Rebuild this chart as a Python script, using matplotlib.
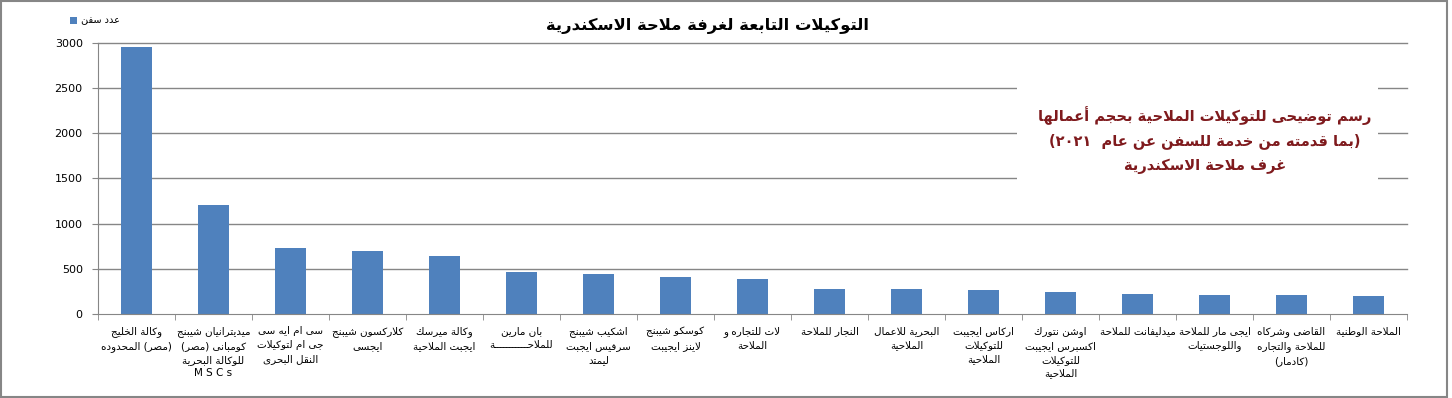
import re
import numpy as np
import matplotlib
matplotlib.use('Agg')
import matplotlib.pyplot as plt
from matplotlib.patches import Rectangle

# agencies, one line per row of the axis label as in the original sheet
agencies=[
    'وكالة الخليج\n(مصر) المحدوده',
    'ميديترانيان شيبنج\nكومبانى (مصر)\nللوكالة البحرية\nM S C s',
    'سى ام ايه سى\nجى ام لتوكيلات\nالنقل البحرى',
    'كلاركسون شيبنج\nايجسى',
    'وكالة ميرسك\nايجبت الملاحية',
    'بان مارين\nللملاحـــــــــــة',
    'اشكيب شيبنج\nسرفيس ايجبت\nليمتد',
    'كوسكو شيبنج\nلاينز ايجيبت',
    'لات للتجاره و\nالملاحة',
    'النجار للملاحة',
    'البحرية للاعمال\nالملاحية',
    'اركاس ايجيبت\nللتوكيلات\nالملاحية',
    'اوشن نتورك\nاكسبرس ايجيبت\nللتوكيلات\nالملاحية',
    'ميدليفانت للملاحة',
    'ايجى مار للملاحة\nواللوجستيات',
    'القاضى وشركاه\nللملاحة والتجاره\n(كادمار)',
    'الملاحة الوطنية',
]
ships=[2950,1200,730,700,640,465,440,410,385,275,275,265,243,220,210,210,200]
yticks=[0,500,1000,1500,2000,2500,3000]

series_name='عدد سفن'
title='التوكيلات التابعة لغرفة ملاحة الاسكندرية'
note=[
    'رسم توضيحى للتوكيلات الملاحية بحجم أعمالها',
    '(بما قدمته من خدمة للسفن عن عام  ٢٠٢١)',
    'غرف ملاحة الاسكندرية',
]

#matplotlib has no arabic shaping, so letters are swapped for
#their presentation forms by hand and the line is put in visual order
#letter -> (isolated form, number of forms)
FORMS={
    'ء':(0xFE80,1),'آ':(0xFE81,2),'أ':(0xFE83,2),'ؤ':(0xFE85,2),'إ':(0xFE87,2),
    'ئ':(0xFE89,4),'ا':(0xFE8D,2),'ب':(0xFE8F,4),'ة':(0xFE93,2),'ت':(0xFE95,4),
    'ث':(0xFE99,4),'ج':(0xFE9D,4),'ح':(0xFEA1,4),'خ':(0xFEA5,4),'د':(0xFEA9,2),
    'ذ':(0xFEAB,2),'ر':(0xFEAD,2),'ز':(0xFEAF,2),'س':(0xFEB1,4),'ش':(0xFEB5,4),
    'ص':(0xFEB9,4),'ض':(0xFEBD,4),'ط':(0xFEC1,4),'ظ':(0xFEC5,4),'ع':(0xFEC9,4),
    'غ':(0xFECD,4),'ف':(0xFED1,4),'ق':(0xFED5,4),'ك':(0xFED9,4),'ل':(0xFEDD,4),
    'م':(0xFEE1,4),'ن':(0xFEE5,4),'ه':(0xFEE9,4),'و':(0xFEED,2),'ى':(0xFEEF,2),
    'ي':(0xFEF1,4),
}
LAM_ALEF={'آ':0xFEF5,'أ':0xFEF7,'إ':0xFEF9,'ا':0xFEFB}
TATWEEL='ـ'
MIRROR={'(':')',')':'('}
LTR_RUN=re.compile(r'[A-Za-z0-9\u0660-\u0669]+(?:\s+[A-Za-z0-9\u0660-\u0669]+)*')


def joins_next(c):
    return c==TATWEEL or (c in FORMS and FORMS[c][1]==4)


def joins_prev(c):
    return c==TATWEEL or (c in FORMS and FORMS[c][1]>1)


def shape(text):
    out=[]
    i=0
    n=len(text)
    while i<n:
        c=text[i]
        prev=text[i-1] if i>0 else ''
        if c=='ل' and i+1<n and text[i+1] in LAM_ALEF:
            base=LAM_ALEF[text[i+1]]
            out.append(chr(base+1 if joins_next(prev) else base))
            i+=2
            continue
        if c in FORMS:
            base,nf=FORMS[c]
            nxt=text[i+1] if i+1<n else ''
            p=nf>1 and joins_next(prev)
            q=nf==4 and joins_prev(nxt)
            k=3 if (p and q) else 1 if p else 2 if q else 0
            out.append(chr(base+k))
        else:
            out.append(c)
        i+=1
    return ''.join(out)


def visual_line(line):
    if not re.search(r'[\u0600-\u06FF]',line):
        return line
    s=shape(line)
    parts=[]
    pos=0
    for m in LTR_RUN.finditer(s):
        parts.append(('r',s[pos:m.start()]))
        parts.append(('l',m.group()))
        pos=m.end()
    parts.append(('r',s[pos:]))
    out=''
    for kind,chunk in reversed(parts):
        if kind=='l':
            out+=chunk
        else:
            out+=''.join(MIRROR.get(ch,ch) for ch in reversed(chunk))
    return out


def visual(text):
    return '\n'.join(visual_line(l) for l in text.split('\n'))


def plot():
    W,H=1452,398
    grey='#868686'
    fig=plt.figure(figsize=(W/100,H/100),dpi=100)

    ax=fig.add_axes([98/W,1-314/H,(1407-98)/W,(314-42.7)/H])
    x=np.arange(len(ships))
    bars=ax.bar(x,ships,width=0.4,color='#4f81bd',zorder=2,label=visual(series_name))

    ax.set_xlim(-0.5,len(ships)-0.5)
    ax.set_ylim(0,3000)
    ax.set_yticks(yticks)
    ax.set_yticklabels([str(v) for v in yticks],fontsize=8)
    for v in yticks[1:]:
        ax.axhline(v,color=grey,lw=1,zorder=1,clip_on=False)

    #labels sit under the bars, tick marks between the categories
    ax.set_xticks(x)
    ax.set_xticklabels([visual(a) for a in agencies],fontsize=7.5,linespacing=1.45,va='top')
    ax.set_xticks(np.arange(-0.5,len(ships)),minor=True)
    ax.tick_params(axis='x',which='major',length=0,pad=9)
    ax.tick_params(axis='x',which='minor',length=4,color=grey,direction='out')
    ax.tick_params(axis='y',length=4,color=grey,direction='out',pad=7)

    for side in ['top','right']:
        ax.spines[side].set_visible(False)
    for side in ['left','bottom']:
        ax.spines[side].set_color(grey)

    ax.legend(handles=[bars],loc='center left',bbox_to_anchor=(70/W,1-20.5/H),
              bbox_transform=fig.transFigure,frameon=False,fontsize=7,
              handlelength=0.7,handleheight=0.7,handletextpad=0.4,
              borderpad=0,borderaxespad=0)

    fig.text(707/W,1-26/H,visual(title),ha='center',va='center',
             fontsize=11.8,fontweight='bold')

    #white box of the text note hides the grid lines behind it
    fig.patches.append(Rectangle((1017/W,1-205/H),(1378-1017)/W,(205-70)/H,
                                 transform=fig.transFigure,fc='white',ec='none',zorder=2))
    fig.text(1205/W,1-140/H,'\n'.join(visual_line(l) for l in note),ha='center',va='center',
             fontsize=10.5,fontweight='bold',color='#7f1a1d',linespacing=1.75,zorder=3)

    fig.patches.append(Rectangle((1/W,1/H),(W-6)/W,(H-2)/H,transform=fig.transFigure,
                                 fill=False,ec=grey,lw=1.5))

    fig.savefig('out.png',dpi=100)


if __name__=='__main__':
    plot()
